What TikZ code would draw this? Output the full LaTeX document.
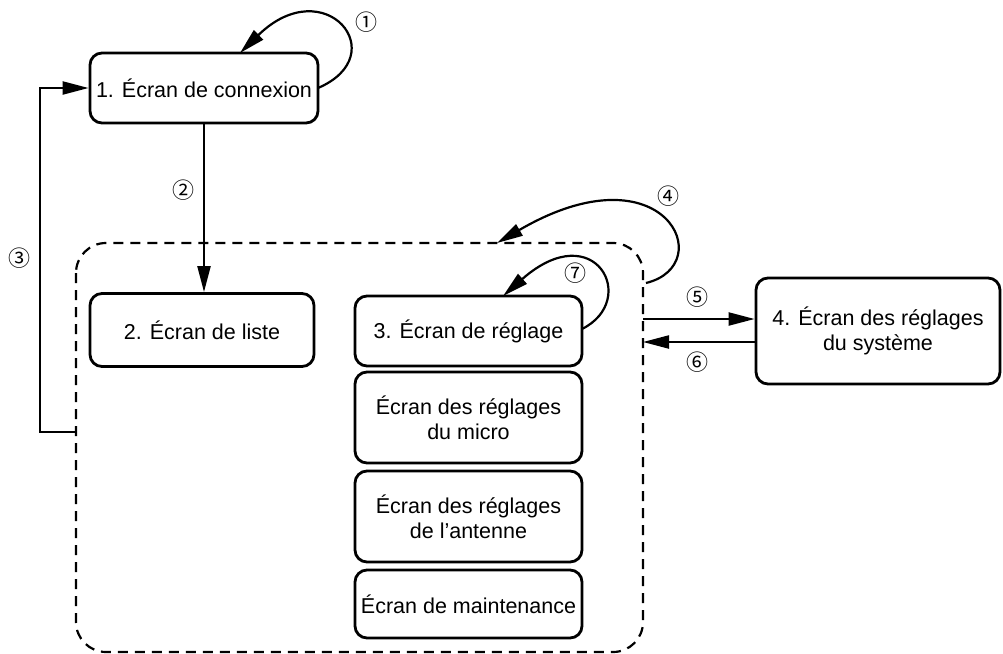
\documentclass[tikz,border=0pt]{standalone}
\usepackage{fontspec}
\setmainfont{Liberation Sans}
\newfontfamily\numfont{Noto Sans CJK JP}
\usetikzlibrary{arrows.meta}
\begin{document}
\begin{tikzpicture}[x=1pt,y=-1pt,
  box/.style={draw, line width=2.8pt, rounded corners=12pt, align=center, inner sep=0pt,
    font=\fontsize{21.5}{25}\selectfont},
  arr/.style={line width=2.2pt, -{Triangle[length=26pt,width=13pt]}},
  num/.style={font=\numfont\fontsize{22}{22}\selectfont, inner sep=0pt}]
\useasboundingbox (0,0) rectangle (1003,653);
% group container
\draw[line width=2.2pt, dash pattern=on 10pt off 7pt, rounded corners=30pt]
  (76,243) rectangle (643,652);
\coordinate (grpT) at (497,243);
% boxes
\node[box, minimum width=228pt, minimum height=70pt] (b1) at (204,88) {1. Écran de connexion};
\node[box, minimum width=224pt, minimum height=73pt] (b2) at (202,330) {2. Écran de liste};
\node[box, minimum width=227pt, minimum height=70pt] (b3) at (468.5,331) {3. Écran de réglage};
\node[box, minimum width=227pt, minimum height=91pt] (bm) at (468.5,417.5) {Écran des réglages\\du micro};
\node[box, minimum width=227pt, minimum height=91pt] (ba) at (468.5,516.5) {Écran des réglages\\de l’antenne};
\node[box, minimum width=227pt, minimum height=68pt] (bx) at (468.5,604) {Écran de maintenance};
\node[box, minimum width=244pt, minimum height=106pt] (b4) at (878,331) {4. Écran des réglages\\du système};
% coordinates
\coordinate (c1s) at (318,88);
\coordinate (c1t) at (240,53);
\coordinate (c3s) at (76,432);
\coordinate (c3c) at (40,432);
\coordinate (c4s) at (646,283);
\coordinate (c5s) at (643,319);
\coordinate (c6e) at (643,342);
\coordinate (c7s) at (582,329);
\coordinate (c7t) at (503,296);
% arrows
\draw[arr] (c1s) .. controls (395,55) and (325,-30) .. (c1t);
\draw[arr] (b1.south) -- (b1.south |- b2.north);
\draw[arr] (c3s) -- (c3c) |- (b1.west);
\draw[arr] (c4s) .. controls (720,265) and (665,145) .. (grpT);
\draw[arr] (c5s) -- (c5s -| b4.west);
\draw[arr] (c6e -| b4.west) -- (c6e);
\draw[arr] (c7s) .. controls (640,300) and (595,215) .. (c7t);
% labels
\node[num] (n1) at (366,22) {①};
\node[num] (n2) at (183,190) {②};
\node[num] (n3) at (20,258) {③};
\node[num] (n4) at (668,196) {④};
\node[num] (n5) at (697,297) {⑤};
\node[num] (n6) at (697,362) {⑥};
\node[num] (n7) at (575,273) {⑦};
\end{tikzpicture}
\end{document}
